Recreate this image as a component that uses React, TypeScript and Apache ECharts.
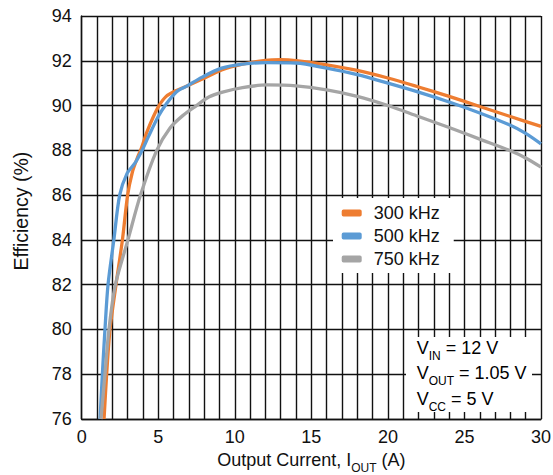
import React, { useEffect, useRef } from "react";
import * as echarts from "echarts";

const FONT = "'Liberation Sans', Arial, Helvetica, sans-serif";

const seriesNames = ["300 kHz", "500 kHz", "750 kHz"];
const seriesColors = ["#EE7D31", "#5B9BD5", "#A5A5A5"];

// [Output current (A), Efficiency (%)]
const eff300: [number, number][] = [
  [1.46, 76], [1.63, 78], [1.85, 80], [2.24, 82], [2.66, 84], [3.0, 86], [3.3, 87.0],
  [3.6, 87.6], [3.9, 88.1], [4.25, 88.8], [4.68, 89.5], [5.05, 90], [5.5, 90.4],
  [6.1, 90.65], [6.8, 90.85], [7.84, 91.17], [9.14, 91.59], [10.5, 91.85],
  [12, 92.02], [13, 92.05], [14, 92.01], [16, 91.82], [18, 91.57], [20, 91.23],
  [22, 90.83], [24, 90.41], [26, 89.96], [28, 89.51], [30, 89.07],
];
const eff500: [number, number][] = [
  [1.2, 76], [1.35, 78], [1.52, 80], [1.72, 82], [2.1, 84], [2.48, 86],
  [2.95, 86.95], [3.5, 87.45], [3.98, 88.05], [4.35, 88.6],
  [5.0, 89.51], [5.5, 90.05], [6.2, 90.62], [6.9, 90.88], [7.84, 91.26], [9.14, 91.67],
  [10.5, 91.85], [12, 91.92], [14, 91.9], [16, 91.67], [18, 91.38], [20, 91.0],
  [22, 90.6], [24, 90.16], [26, 89.67], [28, 89.12], [29, 88.76], [30, 88.29],
];
const eff750: [number, number][] = [
  [1.26, 76], [1.52, 78], [1.78, 80], [2.2, 82], [3.02, 84], [3.84, 86], [4.9, 88],
  [5.77, 89], [6.6, 89.55], [7.5, 90], [8.3, 90.38], [9.2, 90.6],
  [10.5, 90.8], [12.1, 90.92], [14, 90.88], [16, 90.7], [18, 90.41], [20, 90.0],
  [22, 89.51], [24, 89.02], [26, 88.5], [28, 87.98], [29, 87.66], [30, 87.25],
];
const allSeries = [eff300, eff500, eff750];

const xMin = 0, xMax = 30, xStep = 5;
const yMin = 76, yMax = 94, yStep = 2;

const conditionLines = [
  { main: "V", sub: "IN", rest: " = 12 V" },
  { main: "V", sub: "OUT", rest: " = 1.05 V" },
  { main: "V", sub: "CC", rest: " = 5 V" },
];

export default function App() {
  const ref = useRef<HTMLDivElement>(null);
  useEffect(() => {
    document.body.style.margin = "0";
    const chart = echarts.init(ref.current!, null, { renderer: "svg" });
    const gridLine = { color: "#111", width: 1.4 };
    const rich = {
      m: { fontSize: 18, fontFamily: FONT, color: "#111", lineHeight: 20, verticalAlign: "middle" },
      s: { fontSize: 12, fontFamily: FONT, color: "#111", height: 4, verticalAlign: "bottom" },
    };
    chart.setOption({
      animation: false,
      grid: { left: 81.7, right: 12, top: 16, bottom: 56, containLabel: false, outerBoundsMode: "none" },
      xAxis: {
        type: "value",
        min: xMin,
        max: xMax,
        interval: xStep,
        name: "{m|Output Current, I}{s|OUT}{m| (A)}",
        nameLocation: "middle",
        nameGap: 25.7,
        nameTextStyle: { rich },
        axisLine: { show: true, lineStyle: gridLine },
        axisTick: { show: false },
        axisLabel: { fontSize: 18, fontFamily: FONT, color: "#111", margin: 9 },
        splitLine: { show: true, lineStyle: gridLine },
        minorTick: { show: false, splitNumber: 5 },
        minorSplitLine: { show: true, lineStyle: gridLine },
      },
      yAxis: {
        type: "value",
        min: yMin,
        max: yMax,
        interval: yStep,
        name: "Efficiency (%)",
        nameLocation: "middle",
        nameGap: 51,
        nameRotate: 90,
        nameTextStyle: { fontSize: 19.5, fontFamily: FONT, color: "#111", padding: [0, 0, 0, 12.6] },
        axisLine: { show: true, lineStyle: gridLine },
        axisTick: { show: false },
        axisLabel: { fontSize: 18, fontFamily: FONT, color: "#111", margin: 10 },
        splitLine: { show: true, lineStyle: gridLine },
      },
      legend: {
        orient: "vertical",
        left: 333,
        top: 198,
        padding: [5, 14, 4, 8.7],
        itemGap: 3,
        itemWidth: 20,
        itemHeight: 7,
        icon: "roundRect",
        backgroundColor: "#fff",
        borderWidth: 0,
        textStyle: { fontSize: 18, fontFamily: FONT, color: "#111", lineHeight: 20, padding: [0, 0, 0, 7] },
        data: seriesNames,
      },
      series: allSeries.map((d, i) => ({
        name: seriesNames[i],
        type: "line",
        data: d,
        smooth: 0.3,
        showSymbol: false,
        symbol: "none",
        clip: true,
        color: seriesColors[i],
        lineStyle: { color: seriesColors[i], width: 3.3 },
        z: 3,
      })),
      graphic: [
        {
          type: "rect",
          shape: { x: 406, y: 337, width: 126, height: 75 },
          style: { fill: "#fff" },
          z: 10,
        },
        ...conditionLines.map((l, i) => ({
          type: "text",
          x: 416.7,
          y: 348 + i * 25.3,
          z: 11,
          style: {
            text: `{m|${l.main}}{s|${l.sub}}{m|${l.rest}}`,
            rich,
            align: "left",
            verticalAlign: "middle",
          },
        })),
      ],
    });
    return () => chart.dispose();
  }, []);
  return <div ref={ref} style={{ width: 553, height: 475 }} />;
}
